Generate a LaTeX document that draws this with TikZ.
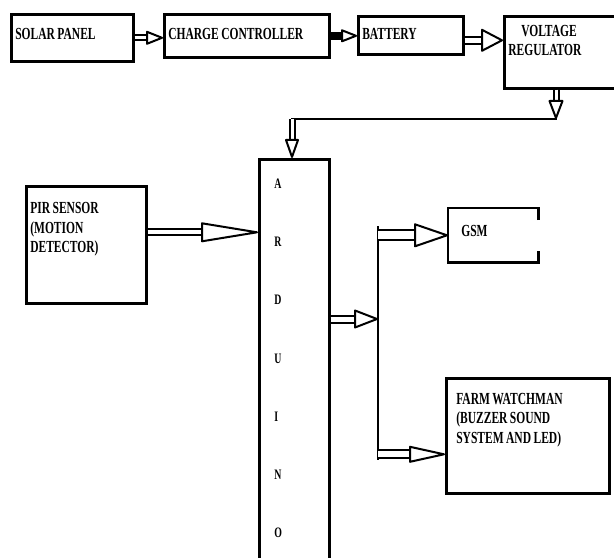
\documentclass[tikz,border=0pt]{standalone}
\usepackage{fontspec}
\newfontfamily\boxfont{Liberation Serif}[FakeStretch=0.68]
\newcommand\boxtext{\boxfont\bfseries\fontsize{17}{19.5}\selectfont\fontdimen2\font=2.5bp\relax}
\usetikzlibrary{decorations.markings}

\begin{document}
\begin{tikzpicture}[x=1bp,y=-1bp,
  box/.style={draw,line width=2.6bp,anchor=north west,inner xsep=4bp,inner ysep=0pt,
    align=flush left,font=\boxtext},
  wire/.style={line width=2.5bp,line cap=rect},
  pipe/.style n args={3}{line width=2bp,double,double distance=#1,shorten >=#2,
    postaction={decorate,decoration={markings,mark=at position 1 with
      {\draw[line width=2bp,shorten >=0pt,fill=white,line join=round]
        (-1bp,0)--(-#2,#3/2)--(-#2,-#3/2)--cycle;}}}}]
  \useasboundingbox (0,0) rectangle (614,558);
  \clip (0,0) rectangle (614,558);
  % top row
  \node[box,text width=114bp,text height=25bp,text depth=22bp] (solar) at (10,13) {SOLAR PANEL};
  \node[box,text width=157bp,text height=25bp,text depth=18bp] (charger) at (163,13) {CHARGE CONTROLLER};
  \node[box,text width=97bp,text height=23bp,text depth=15bp] (battery) at (357,15) {BATTERY};
  \node[box,text width=109bp,text height=20bp,text depth=52bp] (regulator) at (503,15) {\hspace*{13bp}VOLTAGE\\REGULATOR};
  % middle
  \node[box,text width=112bp,text height=27.5bp,text depth=89.5bp] (pir) at (25,185) {PIR SENSOR\\(MOTION\\DETECTOR)};
  \node[box,inner xsep=15bp,text width=40bp,text height=29bp,text depth=378bp,
    font=\boxfont\bfseries\fontsize{14.5}{58.5}\selectfont] (arduino) at (258,158) {A\\R\\D\\U\\I\\N\\O};
  \node[box,draw=none,inner xsep=12bp,text width=64bp,text height=27bp,text depth=25bp] (gsm) at (448,208) {GSM};
  \draw[line width=2.6bp] ([yshift=-12bp]gsm.north east) -- (gsm.north east) -- (gsm.north west)
    -- (gsm.south west) -- (gsm.south east) -- ([yshift=12bp]gsm.south east);
  \node[box,inner xsep=10bp,text width=143bp,text height=26bp,text depth=89bp] (farm) at (445,377) {FARM WATCHMAN\\(BUZZER SOUND\\SYSTEM AND LED)};
  % joints
  \coordinate (j1) at (556,119);
  \coordinate (j2) at (292,119);
  \coordinate (split) at (378,319);
  \coordinate (bustop) at (378,227);
  \coordinate (busend) at (378,459);
  \coordinate (p) at ([yshift=12.5bp]pir.east);
  \coordinate (f) at ([yshift=-18.5bp]farm.west);
  % connectors
  \draw[pipe={3bp}{16bp}{12bp}] (solar.east) -- (solar.east -| charger.west);
  \draw[pipe={4bp}{15bp}{11bp},double=black] (charger.east) -- (charger.east -| battery.west);
  \draw[pipe={5bp}{21bp}{21bp}] ([yshift=-5bp]battery.east) -- ([yshift=-5bp]battery.east -| regulator.west);
  \draw[pipe={3bp}{18bp}{13bp}] (regulator.south -| j1) -- (j1);
  \draw[wire] (j1) -- (j2);
  \draw[pipe={3bp}{18bp}{12bp}] (j2) -- (j2 |- arduino.north);
  \draw[pipe={4bp}{56bp}{18bp}] (p) -- (p -| arduino.west);
  \draw[pipe={5bp}{23bp}{17bp}] (split -| arduino.east) -- (split);
  \draw[wire] (bustop) -- (busend);
  \draw[pipe={8bp}{33bp}{22bp}] (bustop |- gsm.west) -- (gsm.west);
  \draw[pipe={6bp}{35bp}{15bp}] (bustop |- f) -- (f);
\end{tikzpicture}
\end{document}
